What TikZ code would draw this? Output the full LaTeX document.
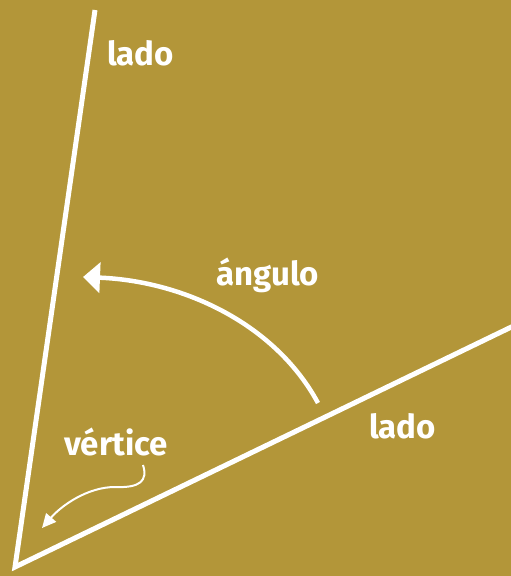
\documentclass[tikz,border=0pt]{standalone}
\usepackage{fontspec}
\setmainfont{Fira Sans}
\usetikzlibrary{arrows.meta}
\definecolor{ochre}{RGB}{179,150,57}
\begin{document}
\begin{tikzpicture}[x=1pt, y=-1pt,
  every node/.style={font=\fontsize{33}{37}\selectfont\bfseries, text=white, inner sep=0pt},
  side/.style={white, line width=5pt, miter limit=20},
  sweep/.style={white, line width=4.5pt, -{Triangle[length=17pt, width=30pt]}},
  pointer/.style={white, line width=2pt, -{Triangle[length=14pt, width=13pt]}}]
\fill[ochre] (0,0) rectangle (511,576);
\clip (0,0) rectangle (511,576);
\coordinate (V) at (15,567); \coordinate (T) at (95,10); \coordinate (R) at (530,318);
\draw[side] (T)--(V)--(R);
\coordinate (S) at (318,403); \coordinate (E) at (83,277);
\draw[sweep] (S) .. controls (276,325) and (185,281) .. (E);
\node[anchor=base west] (ladoT) at (107,65) {lado};
\node[anchor=base west] (ang) at (216,285) {ángulo};
\node[anchor=base west] (ladoR) at (369,438) {lado};
\node[anchor=base west] (vert) at (64,455) {vértice};
\coordinate (P) at (143,465); \coordinate (Q) at (42,528);
\draw[pointer] (P) .. controls (148,481) and (140,488) .. (115,487)
  .. controls (88,487) and (62,505) .. (Q);
\end{tikzpicture}
\end{document}
